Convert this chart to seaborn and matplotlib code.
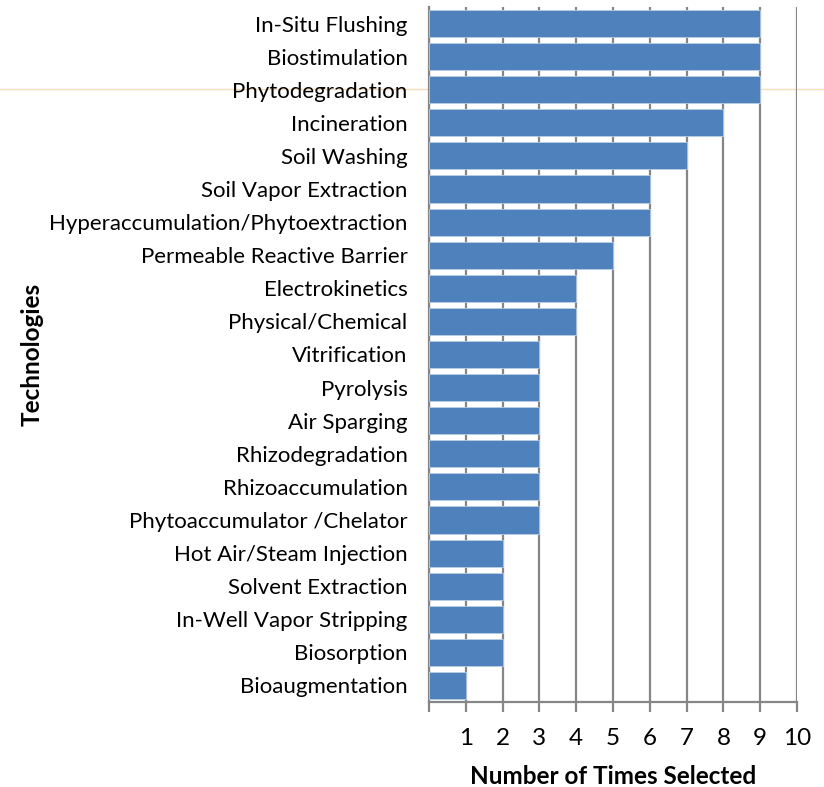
import matplotlib
matplotlib.use("Agg")
import matplotlib.pyplot as plt
from matplotlib.lines import Line2D
import seaborn as sns
import pandas as pd

technologies = [
    "In-Situ Flushing", "Biostimulation", "Phytodegradation", "Incineration",
    "Soil Washing", "Soil Vapor Extraction", "Hyperaccumulation/Phytoextraction",
    "Permeable Reactive Barrier", "Electrokinetics", "Physical/Chemical",
    "Vitrification", "Pyrolysis", "Air Sparging", "Rhizodegradation",
    "Rhizoaccumulation", "Phytoaccumulator /Chelator", "Hot Air/Steam Injection",
    "Solvent Extraction", "In-Well Vapor Stripping", "Biosorption", "Bioaugmentation",
]
times_selected = [9, 9, 9, 8, 7, 6, 6, 5, 4, 4, 3, 3, 3, 3, 3, 3, 2, 2, 2, 2, 1]
x_ticks = list(range(0, 11))
x_tick_labels = [""] + [str(i) for i in range(1, 11)]

df = pd.DataFrame({"Technology": technologies, "Count": times_selected})

sns.set_theme(style="white")
plt.rcParams["font.family"] = ["Lato", "DejaVu Sans"]
plt.rcParams["text.color"] = "black"
plt.rcParams["axes.labelcolor"] = "black"
plt.rcParams["xtick.color"] = "black"
plt.rcParams["ytick.color"] = "black"

fig = plt.figure(figsize=(8.24, 7.87), dpi=100)
ax = fig.add_axes([429 / 824, 1 - 702 / 787, (797 - 429) / 824, (702 - 7) / 787])
ax.set_facecolor("none")

# faint rule across the figure behind the plot
fig.add_artist(Line2D([0, 1], [1 - 89 / 787, 1 - 89 / 787], transform=fig.transFigure,
                      color="#f5ddb8", lw=1.0, zorder=-1))

sns.barplot(data=df, x="Count", y="Technology", orient="h", color="#4f81bd",
            saturation=1, width=0.82, edgecolor="#b9cde5", linewidth=0.6,
            ax=ax, zorder=3)

ax.set_xlim(0, 10)
ax.set_ylim(20.5, -0.5)
ax.set_xticks(x_ticks)
ax.set_xticklabels(x_tick_labels)
ax.xaxis.grid(True, color="#868686", lw=1.6, zorder=0)
ax.yaxis.grid(False)
ax.set_axisbelow(True)

for side in ["top", "right"]:
    ax.spines[side].set_visible(False)
for side in ["left", "bottom"]:
    ax.spines[side].set_color("#868686")
    ax.spines[side].set_linewidth(1.6)

ax.tick_params(axis="x", which="major", direction="out", length=7, width=1.6,
               color="#868686", labelcolor="black", pad=12, labelsize=17.5, bottom=True)
ax.tick_params(axis="y", length=0, pad=15.5, labelsize=16, labelcolor="black")

ax.set_xlabel("Number of Times Selected", fontsize=17.5, fontweight="bold", labelpad=11)
ax.set_ylabel("Technologies", fontsize=17.5, fontweight="bold", labelpad=4)

fig.savefig("out.png", dpi=100)
